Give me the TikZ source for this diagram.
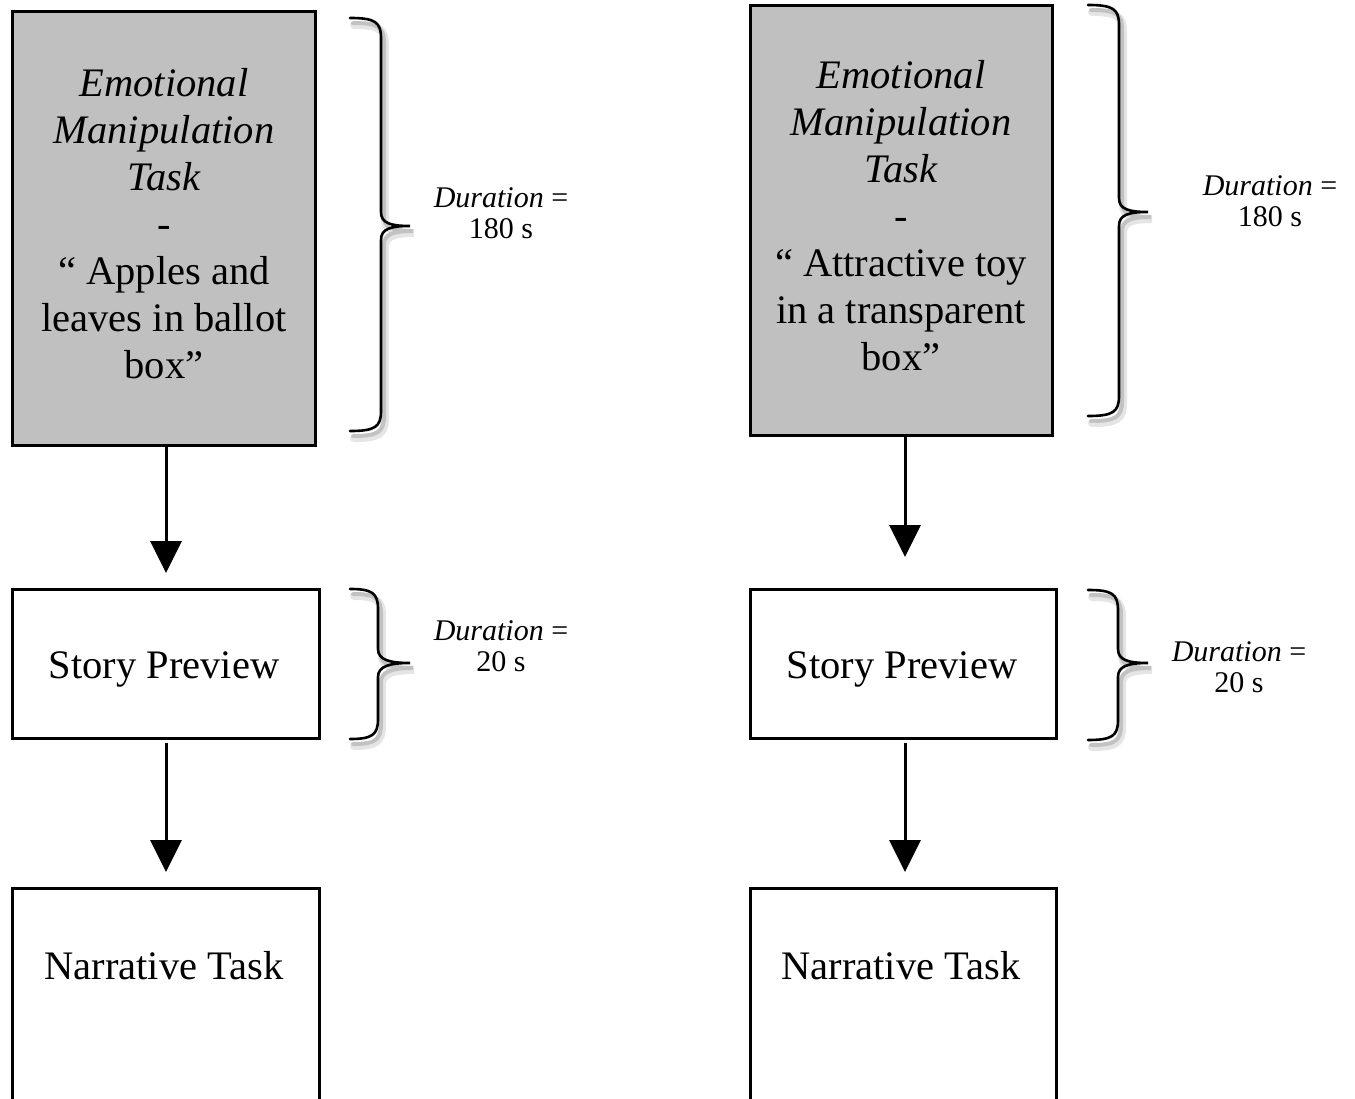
\documentclass[tikz,border=0pt]{standalone}
\usepackage{fontspec}
\setmainfont{Liberation Serif}
\usetikzlibrary{arrows.meta}
\definecolor{boxgray}{RGB}{192,192,192}
% #1 x of ends, #2 x of spine, #3 x of tip, #4 y top, #5 y tip, #6 y bottom
\newcommand\mybracepath[6]{%
  (#1,#4) .. controls ({#2-6},#4) and (#2,{#4+4}) .. (#2,{#4+20})
  -- (#2,{#5-14}) .. controls (#2,{#5-3}) and ({#3-20},#5) .. (#3,#5)
  .. controls ({#3-20},#5) and (#2,{#5+3}) .. (#2,{#5+14})
  -- (#2,{#6-20}) .. controls (#2,{#6-4}) and ({#2-6},#6) .. (#1,#6)}
\newcommand\mybrace[6]{%
  \begin{scope}[shift={(4,7)}]
    \draw[braceshadow] \mybracepath{#1}{#2}{#3}{#4}{#5}{#6};
  \end{scope}
  \begin{scope}[shift={(3,5)}]
    \draw[braceshadow, line width=4pt, opacity=0.15] \mybracepath{#1}{#2}{#3}{#4}{#5}{#6};
  \end{scope}
  \draw[bracestroke] \mybracepath{#1}{#2}{#3}{#4}{#5}{#6};}
\begin{document}
\begin{tikzpicture}[x=1pt,y=-1pt,
  stagebox/.style={draw=black, line width=3pt, inner sep=0pt},
  graybox/.style={stagebox, fill=boxgray},
  maintext/.style={font=\fontsize{40.5}{47}\selectfont, align=center},
  durtext/.style={font=\fontsize{30}{31}\selectfont, align=center},
  flow/.style={line width=3pt, -{Triangle[width=31pt,length=32pt]}, shorten >=15pt},
  bracestroke/.style={line width=2.6pt, black, line cap=round},
  braceshadow/.style={line width=8pt, black, opacity=0.10, line cap=round}
]
\clip (0,0) rectangle (1355,1099);
\fill[white] (0,0) rectangle (1355,1099);

% left column
\node[graybox, minimum width=303, minimum height=434] (L1) at (164,228.5) {};
\node[maintext] (L1t) at (164,223.5)
  {\textit{Emotional}\\ \textit{Manipulation}\\ \textit{Task}\\ -\\ “ Apples and\\ leaves in ballot\\ box”};
\node[stagebox, minimum width=307, minimum height=149] (L2) at (166,664) {};
\node[maintext] (L2t) at (164,669) {Story Preview};
\node[stagebox, minimum width=307, minimum height=300] (L3) at (166,1038.5) {};
\node[maintext] (L3t) at (164,966) {Narrative Task};

% right column
\node[graybox, minimum width=302, minimum height=430] (R1) at (901.5,220.5) {};
\node[maintext] (R1t) at (901,216)
  {\textit{Emotional}\\ \textit{Manipulation}\\ \textit{Task}\\ -\\ “ Attractive toy\\ in a transparent\\ box”};
\node[stagebox, minimum width=306, minimum height=149] (R2) at (903.5,664) {};
\node[maintext] (R2t) at (902,669) {Story Preview};
\node[stagebox, minimum width=306, minimum height=300] (R3) at (903.5,1038.5) {};
\node[maintext] (R3t) at (901,966) {Narrative Task};

% arrows
\draw[flow] (L1.south -| L2.north) -- (L2.north);
\draw[flow] ([yshift=-3pt]L2.south) -- (L3.north);
\draw[flow, shorten >=31pt] (R1.south -| 905,0) -- (R2.north -| 905,0);
\draw[flow] ([yshift=-3pt]R2.south -| 905,0) -- (R3.north -| 905,0);

% braces
\mybrace{350}{381}{410}{18}{226}{431}
\mybrace{350}{378}{410}{589}{663}{739}
\mybrace{1088}{1119}{1148}{5}{212}{416}
\mybrace{1088}{1118}{1148}{590}{663}{740}

% durations
\node[durtext] (dL1) at (501,213) {\textit{Duration} =\\ 180 s};
\node[durtext] (dL2) at (501,646) {\textit{Duration} =\\ 20 s};
\node[durtext] (dR1) at (1270,201) {\textit{Duration} =\\ 180 s};
\node[durtext] (dR2) at (1239,667) {\textit{Duration} =\\ 20 s};
\end{tikzpicture}
\end{document}
